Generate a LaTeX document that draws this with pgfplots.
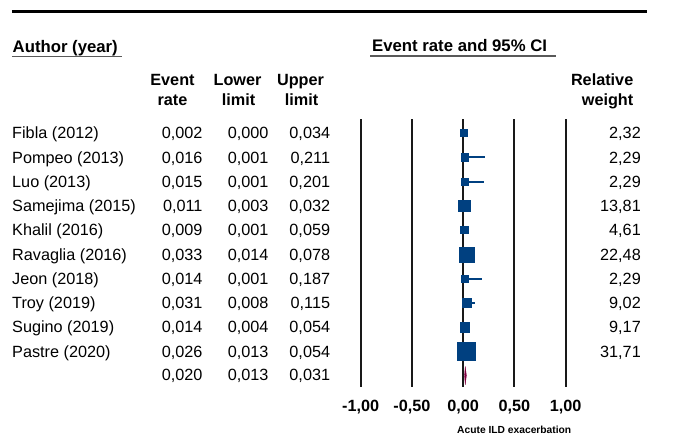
\documentclass[border=0pt]{standalone}
\usepackage{fontspec}
\setmainfont{Liberation Sans}
\usepackage{pgfplots}
\usepackage{pgfplotstable}
\pgfplotsset{compat=1.18}
\definecolor{cmablue}{RGB}{0,64,128}
\definecolor{cmared}{RGB}{128,0,64}
\definecolor{linegray}{RGB}{25,25,25}

% study rows: row index, event rate, lower, upper, relative weight, half square size (pt)
\pgfplotstableread{
row rate lo hi weight hs
1 0.002 0.000 0.034 2.32 3.6
2 0.016 0.001 0.211 2.29 3.7
3 0.015 0.001 0.201 2.29 3.7
4 0.011 0.003 0.032 13.81 5.8
5 0.009 0.001 0.059 4.61 3.7
6 0.033 0.014 0.078 22.48 7.5
7 0.014 0.001 0.187 2.29 3.7
8 0.031 0.008 0.115 9.02 4.7
9 0.014 0.004 0.054 9.17 4.8
10 0.026 0.013 0.054 31.71 9.0
}\studies

\newcommand\rowfont{\fontsize{16.3}{19.5}\selectfont}
\newcommand\hdfont{\bfseries\fontsize{16.8}{20}\selectfont}
\newcommand\colfont{\bfseries\fontsize{16.3}{19.5}\selectfont}

\newcommand\rowtext[6]{%
  \pgfmathsetmacro\yb{441-(139+24.25*(#1-1))}%
  \node[anchor=base west] at (12,\yb) {#2};
  \node[anchor=base east] at (202.7,\yb) {#3};
  \node[anchor=base east] at (268.7,\yb) {#4};
  \node[anchor=base east] at (330.3,\yb) {#5};
  \node[anchor=base east] at (641,\yb) {#6};
}

\begin{document}
\begin{tikzpicture}
\begin{axis}[
  anchor=south west, at={(0,0)},
  scale only axis, width=205bp, height=267.4bp,
  xmin=-1, xmax=1, ymin=-11.46, ymax=-0.435,
  clip=false,
  axis line style={draw=none},
  major tick length=0pt,
  ytick=\empty,
  xtick={-1,-0.5,0,0.5,1},
  xticklabels={{-1,00},{-0,50},{0,00},{0,50},{1,00}},
  xticklabel style={anchor=base, inner sep=0pt, yshift=-25bp,
    font=\bfseries\fontsize{16.3}{19}\selectfont},
  xmajorgrids,
  grid style={linegray, line width=2bp},
]
% confidence intervals
\addplot[draw=none, mark=none, forget plot,
  error bars/.cd, x dir=both, x explicit, error mark=none,
  error bar style={draw=cmablue, line width=2bp}]
  table[x=rate, y expr=-\thisrow{row},
    x error minus expr=\thisrow{rate}-\thisrow{lo},
    x error plus expr=\thisrow{hi}-\thisrow{rate}] {\studies};
% weighted squares
\addplot[scatter, only marks, mark=square*, point meta=x,
  scatter/use mapped color={draw=cmablue, fill=cmablue},
  visualization depends on={\thisrow{hs} \as \hs},
  scatter/@pre marker code/.append style={/tikz/mark size=\hs}]
  table[x=rate, y expr=-\thisrow{row}] {\studies};
% summary diamond
\addplot[fill=cmared, draw=cmared, line width=0.3bp]
  coordinates {(0.013,-11) (0.020,-10.62) (0.031,-11) (0.020,-11.38)} -- cycle;
\end{axis}

\begin{scope}[shift={(-360.7bp,-54.3bp)}, x=1bp, y=1bp,
  every node/.style={inner sep=0pt,font=\rowfont}]
\useasboundingbox (0,0) rectangle (674,441);
% top rule
\draw[black, line width=2.5bp] (12,{441-11.3}) -- (647.3,{441-11.3});

% headers
\node[anchor=base west, font=\hdfont] at (12.5,{441-52.7}) {Author (year)};
\draw[gray!70!black, line width=1.3bp] (12,{441-56.3}) -- (122.5,{441-56.3});
\node[anchor=base west, font=\hdfont] at (372,{441-52}) {Event rate and 95\% CI};
\draw[gray!70!black, line width=1.3bp] (370,{441-56}) -- (556,{441-56});

\node[anchor=base, font=\colfont] at (172.5,{441-85.5}) {Event};
\node[anchor=base, font=\colfont] at (172.5,{441-106}) {rate};
\node[anchor=base, font=\colfont] at (237.5,{441-85.5}) {Lower};
\node[anchor=base, font=\colfont] at (238.5,{441-106}) {limit};
\node[anchor=base, font=\colfont] at (300.5,{441-85.5}) {Upper};
\node[anchor=base, font=\colfont] at (301.5,{441-106}) {limit};
\node[anchor=base east, font=\colfont] at (633.5,{441-85.5}) {Relative};
\node[anchor=base east, font=\colfont] at (633.5,{441-106}) {weight};

% rows
\rowtext{1}{Fibla (2012)}{0,002}{0,000}{0,034}{2,32}
\rowtext{2}{Pompeo (2013)}{0,016}{0,001}{0,211}{2,29}
\rowtext{3}{Luo (2013)}{0,015}{0,001}{0,201}{2,29}
\rowtext{4}{Samejima (2015)}{0,011}{0,003}{0,032}{13,81}
\rowtext{5}{Khalil (2016)}{0,009}{0,001}{0,059}{4,61}
\rowtext{6}{Ravaglia (2016)}{0,033}{0,014}{0,078}{22,48}
\rowtext{7}{Jeon (2018)}{0,014}{0,001}{0,187}{2,29}
\rowtext{8}{Troy (2019)}{0,031}{0,008}{0,115}{9,02}
\rowtext{9}{Sugino (2019)}{0,014}{0,004}{0,054}{9,17}
\rowtext{10}{Pastre (2020)}{0,026}{0,013}{0,054}{31,71}
\node[anchor=base east] at (202.7,{441-381}) {0,020};
\node[anchor=base east] at (268.7,{441-381}) {0,013};
\node[anchor=base east] at (330.3,{441-381}) {0,031};

% x axis title
\node[anchor=base west, font=\bfseries\fontsize{10.3}{12}\selectfont] at (457,{441-434}) {Acute ILD exacerbation};
\end{scope}
\end{tikzpicture}
\end{document}
